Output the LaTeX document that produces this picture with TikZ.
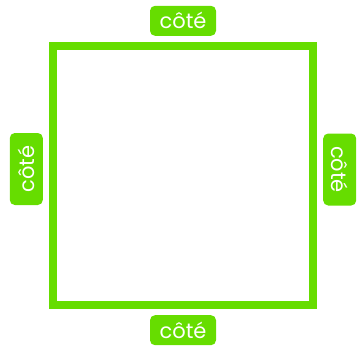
\documentclass[tikz,border=0pt]{standalone}
\usepackage{fontspec}
\setmainfont{Poppins}
\usetikzlibrary{positioning}
\definecolor{vert}{RGB}{102,221,0}

\begin{document}
\begin{tikzpicture}[
  x=1pt,y=-1pt,
  node distance=6pt,
  carre/.style={draw=vert,line width=8pt,minimum width=260pt,minimum height=259pt,inner sep=0pt},
  cote/.style={fill=vert,text=white,rounded corners=5pt,minimum width=66pt,minimum height=30pt,inner sep=0pt,font=\fontsize{21}{24}\selectfont},
  cotelat/.style={cote,minimum width=72pt,minimum height=33pt}
]
  \useasboundingbox (0,0) rectangle (358,348);
  \node[carre] (square) at (183,175.5) {};
  \node[cote,above=of square] (haut) {côté};
  \node[cote,below=of square] (bas) {côté};
  \node[cotelat,rotate=90,anchor=south] (gauche) at ([xshift=-6pt,yshift=6.5pt]square.west) {côté};
  \node[cotelat,rotate=-90,anchor=south] (droite) at ([xshift=6pt,yshift=6pt]square.east) {côté};
\end{tikzpicture}
\end{document}
